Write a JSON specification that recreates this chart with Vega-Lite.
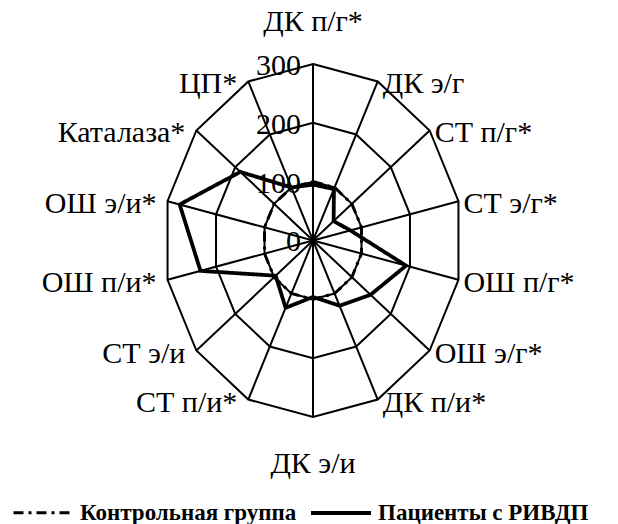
{
  "$schema": "https://vega.github.io/schema/vega-lite/v6.json",
  "width": 618,
  "height": 524,
  "autosize": "none",
  "padding": 0,
  "background": "white",
  "config": {"view": {"stroke": null}, "font": "Liberation Serif, serif"},
  "datasets": {
    "axes": [
      {"i": 0, "label": "ДК п/г*"},
      {"i": 1, "label": "ДК э/г"},
      {"i": 2, "label": "СТ п/г*"},
      {"i": 3, "label": "СТ э/г*"},
      {"i": 4, "label": "ОШ п/г*"},
      {"i": 5, "label": "ОШ э/г*"},
      {"i": 6, "label": "ДК п/и*"},
      {"i": 7, "label": "ДК э/и"},
      {"i": 8, "label": "СТ п/и*"},
      {"i": 9, "label": "СТ э/и"},
      {"i": 10, "label": "ОШ п/и*"},
      {"i": 11, "label": "ОШ э/и*"},
      {"i": 12, "label": "Каталаза*"},
      {"i": 13, "label": "ЦП*"}
    ],
    "grid": [
      {"level": 100, "i": 0}, {"level": 100, "i": 1}, {"level": 100, "i": 2}, {"level": 100, "i": 3}, {"level": 100, "i": 4}, {"level": 100, "i": 5}, {"level": 100, "i": 6},
      {"level": 100, "i": 7}, {"level": 100, "i": 8}, {"level": 100, "i": 9}, {"level": 100, "i": 10}, {"level": 100, "i": 11}, {"level": 100, "i": 12}, {"level": 100, "i": 13},
      {"level": 200, "i": 0}, {"level": 200, "i": 1}, {"level": 200, "i": 2}, {"level": 200, "i": 3}, {"level": 200, "i": 4}, {"level": 200, "i": 5}, {"level": 200, "i": 6},
      {"level": 200, "i": 7}, {"level": 200, "i": 8}, {"level": 200, "i": 9}, {"level": 200, "i": 10}, {"level": 200, "i": 11}, {"level": 200, "i": 12}, {"level": 200, "i": 13},
      {"level": 300, "i": 0}, {"level": 300, "i": 1}, {"level": 300, "i": 2}, {"level": 300, "i": 3}, {"level": 300, "i": 4}, {"level": 300, "i": 5}, {"level": 300, "i": 6},
      {"level": 300, "i": 7}, {"level": 300, "i": 8}, {"level": 300, "i": 9}, {"level": 300, "i": 10}, {"level": 300, "i": 11}, {"level": 300, "i": 12}, {"level": 300, "i": 13}
    ],
    "ticks": [
      {"level": 0, "text": "0"},
      {"level": 100, "text": "100"},
      {"level": 200, "text": "200"},
      {"level": 300, "text": "300"}
    ],
    "series": [
      {"i": 0, "group": "Контрольная группа", "value": 100},
      {"i": 1, "group": "Контрольная группа", "value": 100},
      {"i": 2, "group": "Контрольная группа", "value": 100},
      {"i": 3, "group": "Контрольная группа", "value": 100},
      {"i": 4, "group": "Контрольная группа", "value": 100},
      {"i": 5, "group": "Контрольная группа", "value": 100},
      {"i": 6, "group": "Контрольная группа", "value": 100},
      {"i": 7, "group": "Контрольная группа", "value": 100},
      {"i": 8, "group": "Контрольная группа", "value": 100},
      {"i": 9, "group": "Контрольная группа", "value": 100},
      {"i": 10, "group": "Контрольная группа", "value": 100},
      {"i": 11, "group": "Контрольная группа", "value": 100},
      {"i": 12, "group": "Контрольная группа", "value": 100},
      {"i": 13, "group": "Контрольная группа", "value": 100},
      {"i": 0, "group": "Пациенты с РИВДП", "value": 95},
      {"i": 1, "group": "Пациенты с РИВДП", "value": 97},
      {"i": 2, "group": "Пациенты с РИВДП", "value": 53},
      {"i": 3, "group": "Пациенты с РИВДП", "value": 77},
      {"i": 4, "group": "Пациенты с РИВДП", "value": 192},
      {"i": 5, "group": "Пациенты с РИВДП", "value": 148},
      {"i": 6, "group": "Пациенты с РИВДП", "value": 123},
      {"i": 7, "group": "Пациенты с РИВДП", "value": 96},
      {"i": 8, "group": "Пациенты с РИВДП", "value": 127},
      {"i": 9, "group": "Пациенты с РИВДП", "value": 96},
      {"i": 10, "group": "Пациенты с РИВДП", "value": 232},
      {"i": 11, "group": "Пациенты с РИВДП", "value": 275},
      {"i": 12, "group": "Пациенты с РИВДП", "value": 187},
      {"i": 13, "group": "Пациенты с РИВДП", "value": 100}
    ]
  },
  "resolve": {"scale": {"x": "shared", "y": "shared"}},
  "layer": [
    {
      "data": {"name": "grid"},
      "transform": [
        {"calculate": "datum.i * 2 * PI / 14", "as": "a"},
        {"calculate": "datum.level * sin(datum.a)", "as": "px"},
        {"calculate": "datum.level * cos(datum.a)", "as": "py"}
      ],
      "mark": {"type": "line", "interpolate": "linear-closed", "stroke": "black", "strokeWidth": 2},
      "encoding": {
        "x": {"field": "px", "type": "quantitative", "scale": {"domain": [-629.4, 613.3], "nice": false, "zero": false}, "axis": null},
        "y": {"field": "py", "type": "quantitative", "scale": {"domain": [-481.9, 408.8], "nice": false, "zero": false}, "axis": null},
        "detail": {"field": "level", "type": "nominal"},
        "order": {"field": "i", "type": "quantitative"}
      }
    },
    {
      "data": {"name": "axes"},
      "transform": [
        {"calculate": "datum.i * 2 * PI / 14", "as": "a"},
        {"calculate": "300 * sin(datum.a)", "as": "px"},
        {"calculate": "300 * cos(datum.a)", "as": "py"}
      ],
      "mark": {"type": "rule", "stroke": "black", "strokeWidth": 2},
      "encoding": {
        "x": {"field": "px", "type": "quantitative"},
        "y": {"field": "py", "type": "quantitative"},
        "x2": {"datum": 0},
        "y2": {"datum": 0}
      }
    },
    {
      "data": {"name": "ticks"},
      "mark": {"type": "text", "align": "right", "baseline": "middle", "dx": -12, "dy": 2, "font": "Liberation Serif, serif", "fontSize": 30, "color": "black"},
      "encoding": {
        "x": {"datum": 0, "type": "quantitative"},
        "y": {"field": "level", "type": "quantitative"},
        "text": {"field": "text"}
      }
    },
    {
      "data": {"name": "series"},
      "transform": [
        {"calculate": "datum.i * 2 * PI / 14", "as": "a"},
        {"calculate": "datum.value * sin(datum.a)", "as": "px"},
        {"calculate": "datum.value * cos(datum.a)", "as": "py"}
      ],
      "mark": {"type": "line", "interpolate": "linear-closed", "stroke": "black"},
      "encoding": {
        "x": {"field": "px", "type": "quantitative"},
        "y": {"field": "py", "type": "quantitative"},
        "order": {"field": "i", "type": "quantitative"},
        "strokeDash": {
          "field": "group", "type": "nominal",
          "scale": {"domain": ["Контрольная группа", "Пациенты с РИВДП"], "range": [[10, 5, 3, 5], [1, 0]]},
          "legend": {
            "orient": "none", "legendX": 12, "legendY": 481, "direction": "horizontal", "title": null,
            "symbolType": "stroke", "symbolSize": 3600, "symbolStrokeWidth": 3.5, "symbolStrokeColor": "black",
            "labelFont": "Liberation Serif, serif", "labelFontWeight": "bold", "labelFontSize": 23, "labelColor": "black",
            "labelOffset": 5, "columnPadding": 6, "labelLimit": 500
          }
        },
        "strokeWidth": {
          "field": "group", "type": "nominal",
          "scale": {"domain": ["Контрольная группа", "Пациенты с РИВДП"], "range": [3, 3.8]},
          "legend": null
        }
      }
    },
    {
      "data": {"name": "axes"},
      "transform": [
        {"filter": "datum.i >= 1 && datum.i <= 6"},
        {"calculate": "datum.i * 2 * PI / 14", "as": "a"},
        {"calculate": "300 * sin(datum.a)", "as": "px"},
        {"calculate": "300 * cos(datum.a)", "as": "py"}
      ],
      "mark": {"type": "text", "align": "left", "baseline": "middle", "dx": 5, "dy": 3, "font": "Liberation Serif, serif", "fontSize": 30, "color": "black"},
      "encoding": {
        "x": {"field": "px", "type": "quantitative"},
        "y": {"field": "py", "type": "quantitative"},
        "text": {"field": "label"}
      }
    },
    {
      "data": {"name": "axes"},
      "transform": [
        {"filter": "datum.i >= 8"},
        {"calculate": "datum.i * 2 * PI / 14", "as": "a"},
        {"calculate": "300 * sin(datum.a)", "as": "px"},
        {"calculate": "300 * cos(datum.a)", "as": "py"}
      ],
      "mark": {"type": "text", "align": "right", "baseline": "middle", "dx": -11, "dy": 3, "font": "Liberation Serif, serif", "fontSize": 30, "color": "black"},
      "encoding": {
        "x": {"field": "px", "type": "quantitative"},
        "y": {"field": "py", "type": "quantitative"},
        "text": {"field": "label"}
      }
    },
    {
      "data": {"name": "axes"},
      "transform": [
        {"filter": "datum.i == 0 || datum.i == 7"},
        {"calculate": "datum.i * 2 * PI / 14", "as": "a"},
        {"calculate": "376 * sin(datum.a)", "as": "px"},
        {"calculate": "376 * cos(datum.a)", "as": "py"}
      ],
      "mark": {"type": "text", "align": "center", "baseline": "middle", "dy": 2.5, "font": "Liberation Serif, serif", "fontSize": 30, "color": "black"},
      "encoding": {
        "x": {"field": "px", "type": "quantitative"},
        "y": {"field": "py", "type": "quantitative"},
        "text": {"field": "label"}
      }
    }
  ]
}
